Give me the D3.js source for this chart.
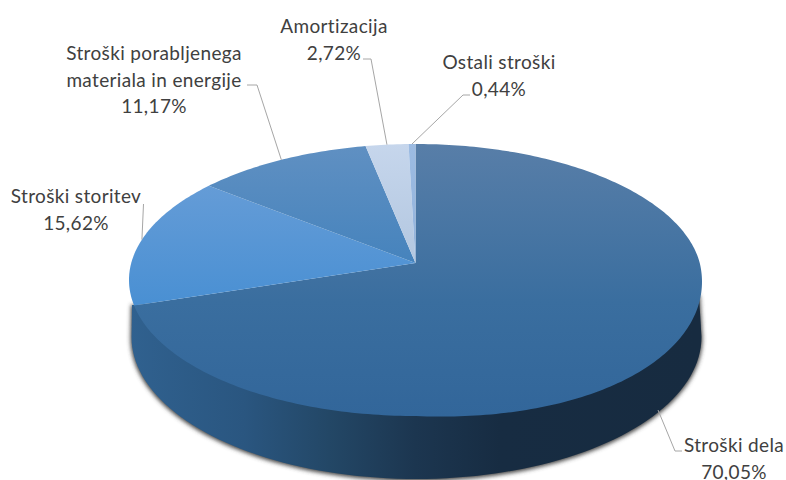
<!DOCTYPE html>
<html><head><meta charset="utf-8">
<script src="https://cdn.jsdelivr.net/npm/d3@7"></script>
<style>html,body{margin:0;padding:0;background:#fff;overflow:hidden}svg{display:block}text{font-family:Lato,sans-serif;font-size:19px;letter-spacing:.35px;fill:#404040}</style>
</head><body>
<svg id="c" width="786" height="480"></svg>
<script>
const categories = ["Stroški dela","Stroški storitev","Stroški porabljenega materiala in energije","Amortizacija","Ostali stroški"];
const values = [70.05,15.62,11.17,2.72,0.44];
const valueLabels = ["70,05%","15,62%","11,17%","2,72%","0,44%"];
const labelLines = [["Stroški dela","70,05%"],["Stroški storitev","15,62%"],["Stroški porabljenega","materiala in energije","11,17%"],["Amortizacija","2,72%"],["Ostali stroški","0,44%"]];

const disc = {cx:415.5, cy:280, rx:286.5, ry:136, tilt:-0.125, bulge:14};
const base = {cx:416.5, cy:337, rx:285, ry:142};
const layout = [
 {x:734,y:452,knee:[[675,451],[682,451]],onWall:true},
 {x:76,y:203,knee:[[143.5,204]]},
 {x:154,y:60,knee:[[257,85],[247,85]]},
 {x:334,y:33,knee:[[371,59],[363,59]]},
 {x:499,y:69,knee:[[463,95],[470,95]]}
];
const tops = [["#587ea8","#3a6e9f","#32669a"],["#6ea0d8","#4a90d3","#4590d5"],["#6090c2","#3d7fbb","#3d7fbb"],["#c6d6ec","#acc2dc","#acc2dc"],["#9cbbe2","#8fb0da","#8fb0da"]];

function project(a){
  const u=Math.sin(a), v=-Math.cos(a), t=disc.tilt, d=1+t*v;
  const extra = (u>0&&v>0) ? disc.bulge*u*v : 0;
  return [disc.cx+disc.rx*u*Math.sqrt(1-t*t)/d, disc.cy+disc.ry*(v+t)/d+extra];
}
const apex=[disc.cx, disc.cy+disc.ry*disc.tilt];
const svg=d3.select("#c"), defs=svg.append("defs");
const line=d3.line();
const pie=d3.pie().sort(null).value(d=>d)(values);

tops.forEach((c,i)=>{
  const g=defs.append("linearGradient").attr("id","t"+i).attr("gradientUnits","userSpaceOnUse")
    .attr("x1",0).attr("x2",0).attr("y1",144).attr("y2",416);
  g.append("stop").attr("offset",0).attr("stop-color",c[0]);
  g.append("stop").attr("offset",.58).attr("stop-color",c[1]);
  g.append("stop").attr("offset",1).attr("stop-color",c[2]);
});
const wg=defs.append("linearGradient").attr("id","wall").attr("gradientUnits","userSpaceOnUse")
  .attr("x1",130).attr("x2",700).attr("y1",0).attr("y2",0);
[[0,"#30618f"],[0.2,"#2a5680"],[0.35,"#234766"],[0.5,"#1c3650"],[0.65,"#172c42"],[1,"#172b40"]].forEach(s=>wg.append("stop").attr("offset",s[0]).attr("stop-color",s[1]));
defs.append("filter").attr("id","blur").attr("x","-10%").attr("y","-10%").attr("width","120%").attr("height","120%")
  .append("feGaussianBlur").attr("stdDeviation",2);

const front=d3.range(0,181,2).map(d=>{const a=d*Math.PI/180;return [base.cx+base.rx*Math.cos(a),base.cy+base.ry*Math.sin(a)];});
const wallPts=[[disc.cx+disc.rx-3,disc.cy+15],...front,[disc.cx-disc.rx+3,disc.cy+25]];
svg.append("path").attr("d",line(wallPts)+"Z").attr("fill","#444").attr("stroke","#444").attr("stroke-width",2).attr("transform","translate(0,1)").attr("filter","url(#blur)");
svg.append("path").attr("d",line(wallPts)+"Z").attr("fill","url(#wall)");

pie.forEach((p,i)=>{
  const n=Math.max(4,Math.ceil((p.endAngle-p.startAngle)*60));
  const rim=d3.range(n+1).map(k=>project(p.startAngle+(p.endAngle-p.startAngle)*k/n));
  svg.append("path").attr("d",line([apex,...rim])+"Z").attr("fill",`url(#t${i})`);
});

pie.forEach((p,i)=>{
  const L=layout[i];
  let s=project((p.startAngle+p.endAngle)/2);
  if(L.onWall) s=[658,410];
  svg.append("path").attr("d",line([s,...L.knee])).attr("fill","none").attr("stroke","#a6a6a6").attr("stroke-width",1);
  const t=svg.append("text").attr("text-anchor","middle");
  labelLines[i].forEach((ln,k)=>t.append("tspan").attr("x",L.x).attr("y",L.y+k*26.5).text(ln));
});
</script>
</body></html>
